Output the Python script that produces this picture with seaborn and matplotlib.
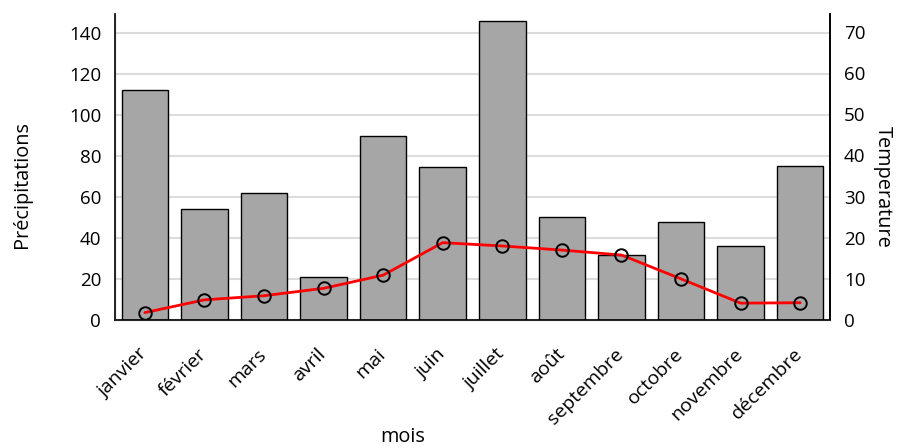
import numpy as np
import pandas as pd
import seaborn as sns
import matplotlib.pyplot as plt
import matplotlib.transforms as mtransforms

# chart data
mois = [ 'janvier', 'février', 'mars', 'avril', 'mai', 'juin',
		'juillet', 'août', 'septembre', 'octobre', 'novembre', 'décembre' ]
precipitations = [ 112.2, 54.2, 61.8, 20.8, 89.9, 74.9, 146.2, 50.3, 31.7, 47.8, 36.3, 75.0 ]
temperature = [ 1.8, 4.9, 5.9, 7.7, 10.9, 18.8, 18.0, 17.0, 15.8, 10.0, 4.1, 4.2 ]


def plotChart():

	"""
	bars for rain, red line for temperature on twin axis
	"""

	df = pd.DataFrame( { 'mois': mois, 'precip': precipitations,
						'temp': temperature, 'pos': np.arange( len( mois ) ) } )

	sns.set_style( 'white' )
	plt.rcParams[ 'font.family' ] = [ 'Open Sans', 'DejaVu Sans' ]
	plt.rcParams[ 'text.color' ] = 'black'
	plt.rcParams[ 'axes.labelcolor' ] = 'black'
	plt.rcParams[ 'xtick.color' ] = 'black'
	plt.rcParams[ 'ytick.color' ] = 'black'

	fs = 13.5
	fig = plt.figure( figsize=(9, 4.48), dpi=100 )
	ax = fig.add_axes( [ 0.1278, 0.2857, 0.7944, 0.6831 ] )

	# precipitation bars
	sns.barplot( data=df, x='mois', y='precip', color='#a6a6a6', saturation=1,
				edgecolor='black', linewidth=1, width=0.78, ax=ax, zorder=2 )

	ax.set_xlim( -0.5, len( mois ) - 0.5 )
	ax.set_ylim( 0, 149.4 )
	ax.set_yticks( np.arange( 0, 141, 20 ) )
	ax.yaxis.grid( True, color='#dcdcdc', linewidth=1.5, zorder=0 )
	ax.set_axisbelow( True )
	ax.tick_params( axis='y', length=0, pad=10, labelsize=fs )
	ax.tick_params( axis='x', length=0, pad=18, labelsize=14 )

	# nudge rotated labels a bit to the right
	shift = mtransforms.ScaledTranslation( 6 / 100, 0, fig.dpi_scale_trans )
	for lab in ax.get_xticklabels():
		lab.set_rotation( 45 )
		lab.set_ha( 'right' )
		lab.set_transform( lab.get_transform() + shift )

	ax.set_xlabel( 'mois', fontsize=14.3 )
	ax.xaxis.set_label_coords( 0.403, -0.35 )
	ax.set_ylabel( 'Précipitations', fontsize=14.3 )
	ax.yaxis.set_label_coords( -0.116, 0.444 )

	for s in [ 'left', 'bottom', 'right' ]:
		ax.spines[ s ].set_color( 'black' )
		ax.spines[ s ].set_linewidth( 1.2 )
	ax.spines[ 'top' ].set_visible( False )

	# temperature line on twin axis
	ax2 = ax.twinx()
	sns.lineplot( data=df, x='pos', y='temp', color='red', linewidth=2, ax=ax2,
				marker='o', markersize=9, markerfacecolor='none',
				markeredgecolor='black', markeredgewidth=1.4 )
	ax2.set_ylim( 0, 74.4 )
	ax2.set_yticks( np.arange( 0, 71, 10 ) )
	ax2.tick_params( axis='y', length=0, pad=10, labelsize=fs )
	ax2.set_ylabel( 'Temperature', fontsize=14.3, rotation=270 )
	ax2.yaxis.set_label_coords( 1.088, 0.435 )
	ax2.grid( False )
	ax2.spines[ 'top' ].set_visible( False )
	ax2.spines[ 'right' ].set_color( 'black' )
	ax2.spines[ 'right' ].set_linewidth( 1.2 )

	fig.savefig( 'out.png', dpi=100 )
	return


# execute main
if __name__ == '__main__':
	plotChart()
